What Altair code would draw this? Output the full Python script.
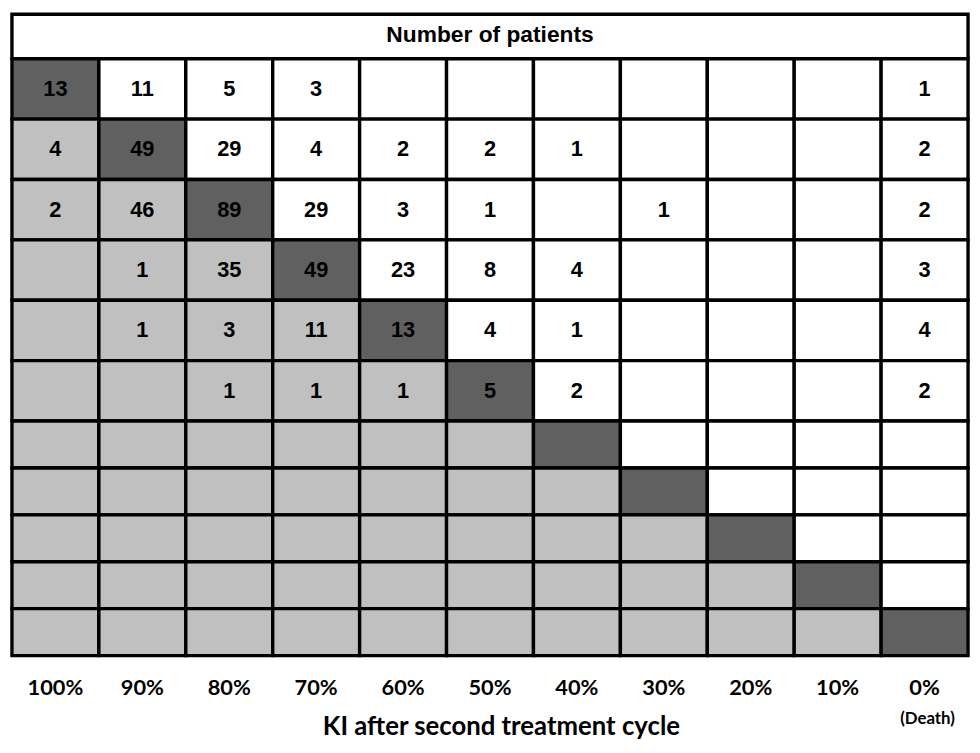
import altair as alt
import pandas as pd

# KI levels (rows: KI before, columns: KI after second treatment cycle)
KI_LEVELS = ["100%", "90%", "80%", "70%", "60%", "50%", "40%", "30%", "20%", "10%", "0%"]

ROW_100 = [13, 11, 5, 3, None, None, None, None, None, None, 1]
ROW_90 = [4, 49, 29, 4, 2, 2, 1, None, None, None, 2]
ROW_80 = [2, 46, 89, 29, 3, 1, None, 1, None, None, 2]
ROW_70 = [None, 1, 35, 49, 23, 8, 4, None, None, None, 3]
ROW_60 = [None, 1, 3, 11, 13, 4, 1, None, None, None, 4]
ROW_50 = [None, None, 1, 1, 1, 5, 2, None, None, None, 2]
ROW_40 = [None, None, None, None, None, None, None, None, None, None, None]
ROW_30 = [None, None, None, None, None, None, None, None, None, None, None]
ROW_20 = [None, None, None, None, None, None, None, None, None, None, None]
ROW_10 = [None, None, None, None, None, None, None, None, None, None, None]
ROW_0 = [None, None, None, None, None, None, None, None, None, None, None]
ROWS = [ROW_100, ROW_90, ROW_80, ROW_70, ROW_60, ROW_50,
        ROW_40, ROW_30, ROW_20, ROW_10, ROW_0]

HEADER = "Number of patients"
X_TITLE = "KI after second treatment cycle"
DEATH_LEVEL = "0%"
DEATH_NOTE = "(Death)"

# ---- layout / style ----
W = 966
HEAD_H = 45
TOP_H = 366
BOT_H = 237
N_TOP = 6
GRID_STROKE = 3.4
NUM_FONT = "Liberation Sans"
NUM_SIZE = 22
LBL_FONT = "Lato"

records = []
for i, (lvl, row) in enumerate(zip(KI_LEVELS, ROWS)):
    for j, (col, v) in enumerate(zip(KI_LEVELS, row)):
        zone = "diag" if i == j else ("below" if j < i else "above")
        records.append({
            "before": lvl,
            "after": col,
            "zone": zone,
            "label": "" if v is None else str(v),
            "block": "top" if i < N_TOP else "bottom",
        })
df = pd.DataFrame(records)

xscale = alt.Scale(domain=KI_LEVELS, paddingInner=0, paddingOuter=0)
zone_scale = alt.Scale(domain=["diag", "below", "above"],
                       range=["#606060", "#c0c0c0", "#ffffff"])

bottom_axis = alt.Axis(
    title=X_TITLE, labelFont=LBL_FONT, labelFontSize=22, labelFontWeight="bold",
    labelColor="black", labelAngle=0, labelPadding=22, ticks=False, tickSize=0,
    domain=False, titleFont=LBL_FONT, titleFontSize=26, titleFontWeight="bold",
    titleColor="black", titlePadding=16, titleX=W / 2 + 11,
)


def grid(block, levels, axis):
    base = alt.Chart(df).transform_filter(alt.datum.block == block)
    x = alt.X("after:N", scale=xscale, sort=KI_LEVELS, axis=axis)
    y = alt.Y("before:N", sort=levels,
              scale=alt.Scale(domain=levels, paddingInner=0, paddingOuter=0),
              axis=None)
    rects = base.mark_rect(stroke="black", strokeWidth=GRID_STROKE).encode(
        x=x, y=y,
        color=alt.Color("zone:N", scale=zone_scale, legend=None),
    )
    texts = base.transform_filter(alt.datum.label != "").mark_text(
        font=NUM_FONT, fontWeight="bold", fontSize=NUM_SIZE, color="black",
        baseline="middle",
    ).encode(x=x, y=y, text="label:N")
    return rects, texts


head_df = pd.DataFrame({"label": [HEADER]})
head_rect = alt.Chart(head_df).mark_rect(
    fill="white", stroke="black", strokeWidth=GRID_STROKE
).encode(x=alt.value(0), x2=alt.value(W), y=alt.value(0), y2=alt.value(HEAD_H))
head_text = alt.Chart(head_df).mark_text(
    font=NUM_FONT, fontWeight="bold", fontSize=23, color="black", baseline="middle"
).encode(x=alt.value(W / 2), y=alt.value(HEAD_H / 2 - 1), text="label:N")
header = alt.layer(head_rect, head_text).properties(width=W, height=HEAD_H)

top_r, top_t = grid("top", KI_LEVELS[:N_TOP], None)
top = alt.layer(top_r, top_t).properties(width=W, height=TOP_H)

bot_r, bot_t = grid("bottom", KI_LEVELS[N_TOP:], bottom_axis)
death_df = pd.DataFrame({"after": [DEATH_LEVEL], "note": [DEATH_NOTE]})
death = alt.Chart(death_df).mark_text(
    font=LBL_FONT, fontWeight="bold", fontSize=17, color="black",
    baseline="middle", dx=3,
).encode(
    x=alt.X("after:N", scale=xscale, sort=KI_LEVELS, axis=bottom_axis),
    y=alt.value(BOT_H + 64),
    text="note:N",
)
bottom = alt.layer(bot_r, bot_t, death).properties(width=W, height=BOT_H)

chart = alt.vconcat(header, top, bottom, spacing=0, bounds="flush").properties(
    padding={"left": 2, "top": 0.5, "right": 2, "bottom": 0}
).configure_view(stroke=None).configure_concat(spacing=0)

chart.save("out.html", embed_options={"renderer": "svg", "actions": False})
